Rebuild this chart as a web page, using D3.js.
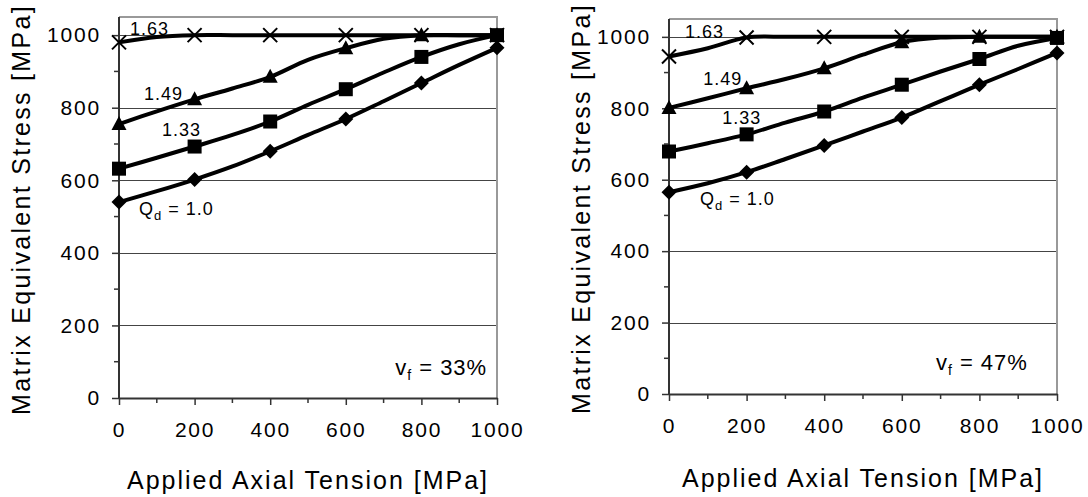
<!DOCTYPE html>
<html>
<head>
<meta charset="utf-8">
<script src="https://cdn.jsdelivr.net/npm/d3@7"></script>
<style>
  body { margin: 0; background: #fff; }
  text { font-family: "Liberation Sans", Arial, sans-serif; fill: #000; }
</style>
</head>
<body>
<div id="chart"></div>
<script>
// x values (applied axial tension, MPa) - data read every 100, markers every 200
const tension = [0, 100, 200, 300, 400, 500, 600, 700, 800, 900, 1000];
const yTicks = [0, 200, 400, 600, 800, 1000];
const xTicks = [0, 200, 400, 600, 800, 1000];
const qdLabels = ["1.63", "1.49", "1.33", "1.0"];
const markerTypes = ["cross", "triangle", "square", "diamond"];

// v_f = 33%
const left_163 = [980, 995, 1000, 1000, 1000, 1000, 1000, 1000, 1000, 1000, 1000];
const left_149 = [755, 790, 823, 853, 885, 932, 964, 990, 1000, 1000, 1000];
const left_133 = [632, 662, 693, 725, 762, 808, 851, 897, 940, 975, 1000];
const left_100 = [540, 570, 602, 638, 680, 725, 769, 818, 868, 918, 965];

// v_f = 47%
const right_163 = [945, 968, 998, 1000, 1000, 1000, 1000, 1000, 1000, 1000, 1000];
const right_149 = [801, 828, 856, 882, 912, 950, 985, 998, 1000, 1000, 1000];
const right_133 = [679, 702, 727, 760, 791, 830, 866, 903, 938, 975, 997];
const right_100 = [565, 590, 621, 658, 696, 735, 774, 820, 866, 910, 955];

const panels = [
  {
    box: { left: 119, right: 497, top: 17, bottom: 398 },
    series: [left_163, left_149, left_133, left_100],
    vf: "33",
    // label anchors in data units
    labelPos: [[29, 1000], [66, 821], [114, 722], [53, 504]],
    vfPos: [974, 63],
    yTitleX: 30,
    xTitleY: 489,
  },
  {
    box: { left: 669, right: 1057, top: 19, bottom: 394 },
    series: [right_163, right_149, right_133, right_100],
    vf: "47",
    labelPos: [[41, 997], [88, 865], [137, 756], [80, 529]],
    vfPos: [925, 67],
    yTitleX: 590,
    xTitleY: 487,
  },
];

const svg = d3.select("#chart").append("svg")
  .attr("width", 1088)
  .attr("height", 497);

function drawMarker(g, type, cx, cy) {
  if (type === "cross") {
    g.append("path")
      .attr("d", `M${cx - 7},${cy - 7}L${cx + 7},${cy + 7}M${cx - 7},${cy + 7}L${cx + 7},${cy - 7}`)
      .attr("stroke", "#000").attr("stroke-width", 2).attr("fill", "none");
  } else if (type === "triangle") {
    g.append("path")
      .attr("d", `M${cx},${cy - 8}L${cx + 7.5},${cy + 6}L${cx - 7.5},${cy + 6}Z`)
      .attr("fill", "#000");
  } else if (type === "square") {
    g.append("rect")
      .attr("x", cx - 7).attr("y", cy - 7)
      .attr("width", 14).attr("height", 14)
      .attr("fill", "#000");
  } else {
    g.append("path")
      .attr("d", `M${cx},${cy - 7.5}L${cx + 7.5},${cy}L${cx},${cy + 7.5}L${cx - 7.5},${cy}Z`)
      .attr("fill", "#000");
  }
}

panels.forEach(function (p) {
  const b = p.box;
  const x = d3.scaleLinear().domain([0, 1000]).range([b.left, b.right]);
  const y = d3.scaleLinear().domain([0, 1050]).range([b.bottom, b.top]);
  const g = svg.append("g");

  // grid lines
  g.selectAll("line.grid")
    .data(yTicks.filter((d) => d > 0))
    .enter()
    .append("line")
    .attr("x1", b.left).attr("x2", b.right)
    .attr("y1", (d) => Math.round(y(d)) + 0.5)
    .attr("y2", (d) => Math.round(y(d)) + 0.5)
    .attr("stroke", "#444").attr("stroke-width", 1);

  // top / right border (grey)
  g.append("path")
    .attr("d", `M${b.left},${b.top}H${b.right}V${b.bottom}`)
    .attr("fill", "none").attr("stroke", "#999").attr("stroke-width", 2);

  // minor ticks
  const minorY = d3.range(100, 1001, 200);
  g.selectAll("line.minorY").data(minorY).enter().append("line")
    .attr("x1", b.left - 5).attr("x2", b.left)
    .attr("y1", (d) => y(d)).attr("y2", (d) => y(d))
    .attr("stroke", "#333").attr("stroke-width", 1.5);
  const minorX = d3.range(100, 1000, 200);
  g.selectAll("line.minorX").data(minorX).enter().append("line")
    .attr("x1", (d) => x(d)).attr("x2", (d) => x(d))
    .attr("y1", b.bottom).attr("y2", b.bottom + 5)
    .attr("stroke", "#333").attr("stroke-width", 1.5);

  // y axis
  const yAxis = g.append("g")
    .attr("transform", `translate(${b.left},0)`)
    .call(d3.axisLeft(y).tickValues(yTicks).tickFormat(d3.format("d"))
      .tickSize(7).tickPadding(11).tickSizeOuter(0));
  // x axis
  const xAxis = g.append("g")
    .attr("transform", `translate(0,${b.bottom})`)
    .call(d3.axisBottom(x).tickValues(xTicks).tickFormat(d3.format("d"))
      .tickSize(7).tickPadding(17).tickSizeOuter(0));

  [yAxis, xAxis].forEach(function (ax) {
    ax.select(".domain").attr("stroke", "#333").attr("stroke-width", 2);
    ax.selectAll(".tick line").attr("stroke", "#333").attr("stroke-width", 1.5);
    ax.selectAll(".tick text")
      .style("font-size", "21px")
      .style("letter-spacing", "1.8px")
      .attr("fill", "#000")
      .style("font-family", '"Liberation Sans", Arial, sans-serif');
  });
  // the y domain should reach the top of the plot
  yAxis.select(".domain").attr("d", `M0,${b.bottom}V${b.top}`);

  // axis titles
  g.append("text")
    .attr("x", (b.left + b.right) / 2)
    .attr("y", p.xTitleY)
    .attr("text-anchor", "middle")
    .style("font-size", "25px")
    .style("letter-spacing", "2px")
    .text("Applied Axial Tension [MPa]");

  g.append("text")
    .attr("transform", `translate(${p.yTitleX},${(b.top + b.bottom) / 2 + 2}) rotate(-90)`)
    .attr("text-anchor", "middle")
    .style("font-size", "25px")
    .style("letter-spacing", "2.3px")
    .text("Matrix Equivalent Stress [MPa]");

  // lines
  const line = d3.line()
    .x((d, i) => x(tension[i]))
    .y((d) => y(d))
    .curve(d3.curveCatmullRom.alpha(0.5));

  p.series.forEach(function (s) {
    g.append("path")
      .datum(s)
      .attr("d", line)
      .attr("fill", "none")
      .attr("stroke", "#000")
      .attr("stroke-width", 4)
      .attr("stroke-linejoin", "round");
  });

  // markers every 200
  p.series.forEach(function (s, k) {
    s.forEach(function (v, i) {
      if (tension[i] % 200 === 0) drawMarker(g, markerTypes[k], x(tension[i]), y(v));
    });
  });

  // series labels
  qdLabels.forEach(function (lab, k) {
    const pos = p.labelPos[k];
    const t = g.append("text")
      .attr("x", x(pos[0]))
      .attr("y", y(pos[1]))
      .style("font-size", "18px")
      .style("letter-spacing", "1px");
    if (k === 3) {
      t.append("tspan").text("Q");
      t.append("tspan").attr("dy", 5).style("font-size", "13px").text("d");
      t.append("tspan").attr("dy", -5).text(" = " + lab);
    } else {
      t.text(lab);
    }
  });

  // v_f label
  const vt = g.append("text")
    .attr("x", x(p.vfPos[0]))
    .attr("y", y(p.vfPos[1]))
    .attr("text-anchor", "end")
    .style("font-size", "22px")
    .style("letter-spacing", "1px");
  vt.append("tspan").text("v");
  vt.append("tspan").attr("dy", 5).style("font-size", "14px").text("f");
  vt.append("tspan").attr("dy", -5).text(" = " + p.vf + "%");
});
</script>
</body>
</html>
